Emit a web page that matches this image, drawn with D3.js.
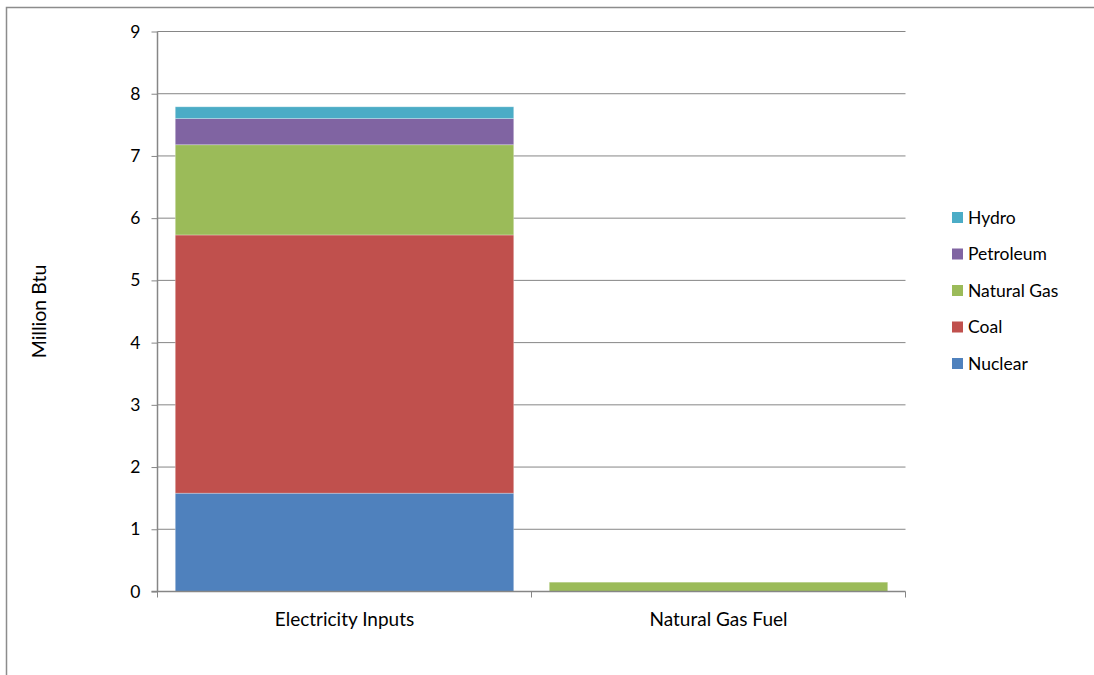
<!DOCTYPE html>
<html>
<head>
<meta charset="utf-8">
<script src="https://cdn.jsdelivr.net/npm/d3@7"></script>
<style>
  html, body { margin: 0; padding: 0; background: #fff; overflow: hidden; }
  svg { display: block; font-family: Lato, "Open Sans", sans-serif; }
</style>
</head>
<body>
<svg id="chart" width="1094" height="675"></svg>
<script>
// Energy inputs per category, million Btu
const categories = ["Electricity Inputs", "Natural Gas Fuel"];
const seriesNames = ["Nuclear", "Coal", "Natural Gas", "Petroleum", "Hydro"];
const nuclear    = [1.58, 0];
const coal       = [4.15, 0];
const naturalGas = [1.45, 0.15];
const petroleum  = [0.42, 0];
const hydro      = [0.19, 0];
const yTicks = [0, 1, 2, 3, 4, 5, 6, 7, 8, 9];
const colors = ["#4F81BD", "#C0504D", "#9BBB59", "#8064A2", "#4BACC6"];

const seriesValues = [nuclear, coal, naturalGas, petroleum, hydro];
const rows = categories.map((c, i) => {
  const r = { category: c };
  seriesNames.forEach((s, j) => r[s] = seriesValues[j][i]);
  return r;
});

const svg = d3.select("#chart");
const plot = { left: 157.5, right: 905.5, top: 31.5, bottom: 591.5 };

// outer chart frame: only top and left edges fall inside the view
svg.append("path")
  .attr("d", "M6.5,675V7.5H1094")
  .attr("fill", "none").attr("stroke", "#8c8c8c").attr("stroke-width", 1.5);

const x = d3.scaleBand().domain(categories)
  .range([plot.left, plot.right]).paddingInner(0.095).paddingOuter(0.0475);
const y = d3.scaleLinear().domain([0, 9]).range([plot.bottom, plot.top]);

// horizontal gridlines
svg.append("g").selectAll("line").data(yTicks.filter(t => t > 0)).join("line")
  .attr("x1", plot.left).attr("x2", plot.right)
  .attr("y1", d => y(d)).attr("y2", d => y(d))
  .attr("stroke", "#868686").attr("stroke-width", 1);

// stacked bars
const stack = d3.stack().keys(seriesNames)(rows);
svg.append("g").selectAll("g").data(stack).join("g")
  .attr("fill", (d, i) => colors[i])
  .selectAll("rect").data(d => d.filter(p => p[1] - p[0] > 0)).join("rect")
  .attr("x", d => x(d.data.category))
  .attr("width", x.bandwidth())
  .attr("y", d => y(d[1]))
  .attr("height", d => y(d[0]) - y(d[1]))
  .attr("stroke", "rgba(255,255,255,0.35)").attr("stroke-width", 0.8);

// y axis
const yAxis = svg.append("g").attr("transform", `translate(${plot.left},0)`)
  .call(d3.axisLeft(y).tickValues(yTicks).tickSize(6).tickPadding(11).tickFormat(d3.format("d")));
yAxis.select(".domain").attr("stroke", "#868686").attr("stroke-width", 1.5).attr("d", `M0,${plot.top}V${plot.bottom}`);
yAxis.selectAll(".tick line").attr("stroke", "#868686");
yAxis.selectAll(".tick text").attr("font-size", 17.5).attr("fill", "#000").attr("font-family", "Lato, sans-serif");

// x axis with boundary ticks between categories
const xAxisG = svg.append("g").attr("transform", `translate(0,${plot.bottom})`);
xAxisG.append("line").attr("x1", plot.left - 6).attr("x2", plot.right)
  .attr("stroke", "#868686").attr("stroke-width", 1.5);
const bounds = d3.range(categories.length + 1).map(i => plot.left + i * (plot.right - plot.left) / categories.length);
xAxisG.selectAll("line.b").data(bounds).join("line").attr("class", "b")
  .attr("x1", d => d).attr("x2", d => d).attr("y1", 0).attr("y2", 6)
  .attr("stroke", "#868686").attr("stroke-width", 1);
xAxisG.selectAll("text").data(categories).join("text")
  .attr("x", d => x(d) + x.bandwidth() / 2).attr("y", 34)
  .attr("text-anchor", "middle").attr("font-size", 19).attr("fill", "#000")
  .text(d => d);

// y axis title
svg.append("text")
  .attr("transform", `translate(46,${(plot.top + plot.bottom) / 2}) rotate(-90)`)
  .attr("text-anchor", "middle").attr("font-size", 19.5).attr("fill", "#000")
  .text("Million Btu");

// legend, top-down from last series
const legendItems = seriesNames.map((s, i) => ({ name: s, color: colors[i] })).reverse();
const legend = svg.append("g").attr("transform", "translate(952,212)");
const li = legend.selectAll("g").data(legendItems).join("g")
  .attr("transform", (d, i) => `translate(0,${i * 36.5})`);
li.append("rect").attr("width", 11).attr("height", 11).attr("fill", d => d.color);
li.append("text").attr("x", 16).attr("y", 11.5).attr("font-size", 17.5).attr("fill", "#000").text(d => d.name);
</script>
</body>
</html>
